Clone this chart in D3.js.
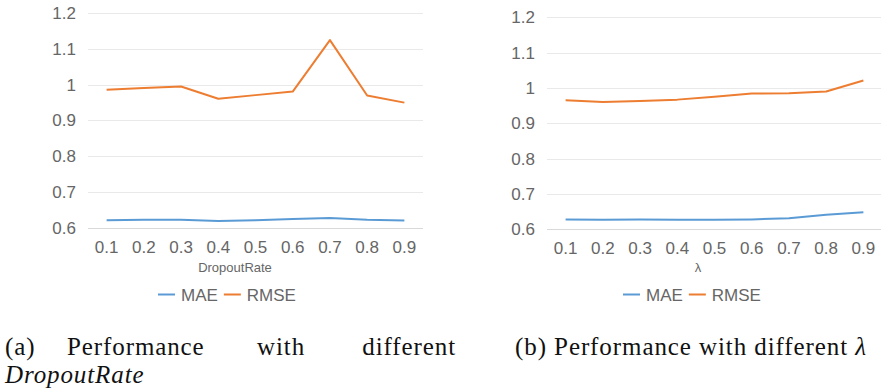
<!DOCTYPE html>
<html>
<head>
<meta charset="utf-8">
<script src="https://cdn.jsdelivr.net/npm/d3@7.9.0/dist/d3.min.js"></script>
<style>
  html, body { margin: 0; padding: 0; background: #fff; }
  svg { display: block; }
  .tick text { font-family: 'Liberation Sans', Arial, sans-serif; fill: #666; }
  .caption { font-family: 'Liberation Serif', 'DejaVu Serif', serif; fill: #111; letter-spacing: 0.9px; }
</style>
</head>
<body>
<svg id="chart" width="881" height="391"></svg>
<script>
// x categories shared by both panels
const xLabels = ['0.1', '0.2', '0.3', '0.4', '0.5', '0.6', '0.7', '0.8', '0.9'];
const yTicks = [0.6, 0.7, 0.8, 0.9, 1, 1.1, 1.2];
const seriesNames = ['MAE', 'RMSE'];
const colors = ['#5b9bd5', '#ed7d31'];

// (a) varying dropout rate
const dropoutMAE = [0.621, 0.622, 0.622, 0.619, 0.621, 0.624, 0.627, 0.622, 0.620];
const dropoutRMSE = [0.986, 0.991, 0.995, 0.961, 0.971, 0.981, 1.125, 0.970, 0.950];

// (b) varying lambda
const lambdaMAE = [0.628, 0.627, 0.628, 0.627, 0.627, 0.628, 0.631, 0.641, 0.648];
const lambdaRMSE = [0.965, 0.960, 0.963, 0.967, 0.975, 0.984, 0.985, 0.990, 1.021];

const svg = d3.select('#chart');

function drawPanel(cfg) {
  const g = svg.append('g');

  const x = d3.scaleBand()
    .domain(xLabels)
    .range([cfg.left, cfg.right]);

  const y = d3.scaleLinear()
    .domain([0.6, 1.2])
    .range([cfg.bottom, cfg.top]);

  // gridlines
  g.append('g')
    .selectAll('line')
    .data(yTicks)
    .join('line')
    .attr('x1', cfg.left)
    .attr('x2', cfg.right)
    .attr('y1', (d) => Math.round(y(d)) + 0.5)
    .attr('y2', (d) => Math.round(y(d)) + 0.5)
    .attr('stroke', (d) => (d === 0.6 ? '#d9d9d9' : '#e9e9e9'))
    .attr('stroke-width', 1);

  // y axis labels
  const yAxis = g.append('g')
    .attr('transform', `translate(${cfg.left - 12},0)`)
    .call(d3.axisLeft(y).tickValues(yTicks).tickSize(0).tickPadding(0)
      .tickFormat((d) => String(d)));
  yAxis.select('.domain').remove();
  yAxis.selectAll('text').style('font-size', '17px');

  // x axis labels
  const xAxis = g.append('g')
    .attr('transform', `translate(0,${cfg.bottom + 13})`)
    .call(d3.axisBottom(x).tickSize(0).tickPadding(0));
  xAxis.select('.domain').remove();
  xAxis.selectAll('text').style('font-size', '17px').attr('dy', '0.71em');

  // axis title
  g.append('text')
    .attr('x', cfg.titleX)
    .attr('y', 272)
    .attr('text-anchor', 'middle')
    .style('font-family', "'Liberation Sans', Arial, sans-serif")
    .style('font-size', '13px')
    .attr('fill', '#666')
    .text(cfg.title);

  // lines
  const line = d3.line()
    .x((d, i) => x(xLabels[i]) + x.bandwidth() / 2)
    .y((d) => y(d));

  g.append('g')
    .selectAll('path')
    .data(cfg.series)
    .join('path')
    .attr('d', (d) => line(d))
    .attr('fill', 'none')
    .attr('stroke', (d, i) => colors[i])
    .attr('stroke-width', 2)
    .attr('stroke-linejoin', 'round');

  // legend
  const leg = g.append('g').attr('transform', `translate(${cfg.legendX},294.5)`);
  let cx = 0;
  seriesNames.forEach((name, i) => {
    leg.append('line')
      .attr('x1', cx).attr('x2', cx + 17)
      .attr('stroke', colors[i])
      .attr('stroke-width', 2);
    const t = leg.append('text')
      .attr('x', cx + 23)
      .attr('y', 6)
      .style('font-family', "'Liberation Sans', Arial, sans-serif")
      .style('font-size', '17px')
      .attr('fill', '#666')
      .text(name);
    cx += 23 + t.node().getComputedTextLength() + 6;
  });
}

drawPanel({
  left: 88, right: 423, top: 13.3, bottom: 227.7,
  series: [dropoutMAE, dropoutRMSE],
  title: 'DropoutRate', titleX: 235, legendX: 158
});

drawPanel({
  left: 547, right: 882, top: 17.3, bottom: 229.3,
  series: [lambdaMAE, lambdaRMSE],
  title: 'λ', titleX: 698, legendX: 623
});

// captions
const cap = svg.append('g').attr('class', 'caption').style('font-size', '25px');
cap.append('text').attr('x', 5).attr('y', 355).text('(a)');
cap.append('text').attr('x', 67).attr('y', 355).text('Performance');
cap.append('text').attr('x', 257).attr('y', 355).text('with');
cap.append('text').attr('x', 456).attr('y', 355).attr('text-anchor', 'end').text('different');
cap.append('text').attr('x', 5).attr('y', 383).style('font-style', 'italic').text('DropoutRate');

const capB = cap.append('text').attr('x', 515).attr('y', 355)
  .attr('textLength', 352).attr('lengthAdjust', 'spacing');
capB.append('tspan').text('(b) Performance with different ');
capB.append('tspan').style('font-style', 'italic').text('λ');
</script>
</body>
</html>
